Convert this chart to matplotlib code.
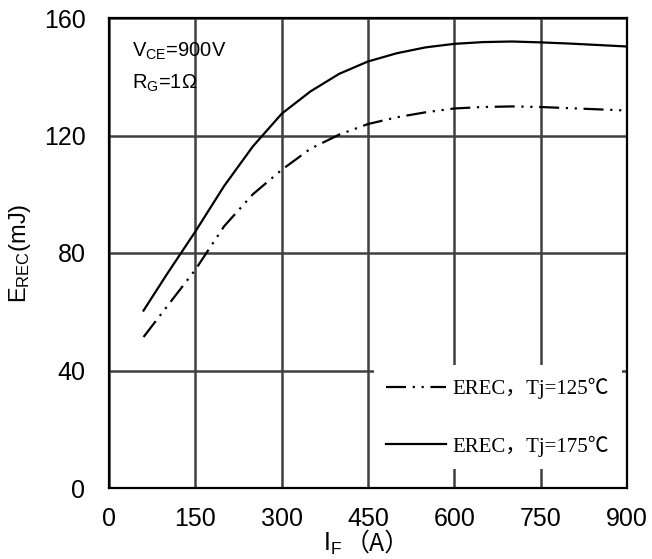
import matplotlib
matplotlib.use("Agg")
import matplotlib.pyplot as plt

plt.rcParams['font.family'] = ['Liberation Sans', 'Noto Sans CJK SC', 'DejaVu Sans']
plt.rcParams['mathtext.fontset'] = 'custom'
plt.rcParams['mathtext.rm'] = 'Liberation Sans'
plt.rcParams['mathtext.it'] = 'Liberation Sans'

# Data
current = [60, 100, 150, 200, 250, 300, 350, 400, 450, 500, 550, 600, 650, 700, 750, 800, 850, 900]
erec_175 = [60.4, 72.6, 87.3, 102.8, 116.3, 127.4, 135.0, 141.0, 145.2, 148.0, 150.0, 151.2, 151.8, 152.0, 151.7, 151.3, 150.8, 150.3]
erec_125 = [51.4, 61.6, 74.3, 89.1, 100.0, 108.3, 115.5, 120.3, 123.9, 126.2, 127.9, 129.2, 129.7, 129.9, 129.7, 129.3, 128.9, 128.5]
xticks = [0, 150, 300, 450, 600, 750, 900]
yticks = [0, 40, 80, 120, 160]
labels = ['EREC，Tj=125℃', 'EREC，Tj=175℃']

fig = plt.figure(figsize=(6.52, 5.59), dpi=100)
ax = fig.add_axes([109/652, 1-488/559, 518/652, 470/559])

ax.plot(current, erec_125, color='black', lw=1.6, dashes=(9, 3, 1, 3, 1, 3), label=labels[0], zorder=3)
ax.plot(current, erec_175, color='black', lw=1.6, label=labels[1], zorder=3)

ax.set_xlim(0, 900)
ax.set_ylim(0, 160)
ax.set_xticks(xticks)
ax.set_yticks(yticks)
ax.tick_params(length=0, labelsize=18)
ax.tick_params(axis='x', pad=14)
ax.tick_params(axis='y', pad=17)
ax.grid(True, color='#404040', lw=1.8, zorder=1)
ax.set_axisbelow(True)
for s in ax.spines.values():
    s.set_color('black')
    s.set_linewidth(1.6)

ax.text(0.044, 0.93, r'V$_{\mathregular{CE}}$=900V', transform=ax.transAxes, fontsize=14.5, va='center')
ax.text(0.044, 0.86, r'R$_{\mathregular{G}}$=1Ω', transform=ax.transAxes, fontsize=14.5, va='center')

leg = ax.legend(loc='lower right', bbox_to_anchor=(0.99, 0.04), borderaxespad=0, frameon=True, fancybox=False,
                framealpha=1, edgecolor='none', facecolor='white', handlelength=2.9,
                handletextpad=0.3, labelspacing=1.75, borderpad=0.6,
                prop={'family': ['Liberation Serif', 'Noto Sans CJK SC'], 'size': 15})
leg.set_zorder(5)

ax.set_ylabel(r'E$_{\mathregular{REC}}$(mJ)', fontsize=17, labelpad=8)
fig.text(342/652, 1-544/559, r'I$_{\mathregular{F}}$', fontsize=18, ha='right', va='center')
fig.text(345/652, 1-544/559, '（A）', fontsize=18, ha='left', va='center',
         family=['Noto Sans CJK SC', 'DejaVu Sans'])

fig.savefig('out.png', dpi=100)
